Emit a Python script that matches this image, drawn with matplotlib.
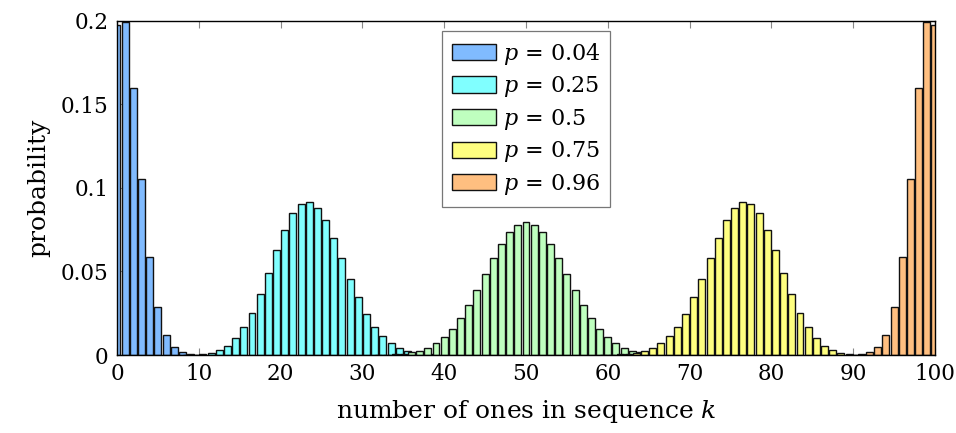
import matplotlib
matplotlib.use("Agg")
import matplotlib.pyplot as plt
import numpy as np

# ---------------- data ----------------
labels = ["$p$ = 0.04", "$p$ = 0.25", "$p$ = 0.5", "$p$ = 0.75", "$p$ = 0.96"]

k_p04 = list(range(0, 14))
v_p04 = [0.01687, 0.07029, 0.14497, 0.19733, 0.19938, 0.15951, 0.10523,
         0.05888, 0.02852, 0.01215, 0.00461, 0.00157, 0.00049, 0.00014]

k_p25 = list(range(10, 43))
v_p25 = [0.00009, 0.00026, 0.00063, 0.00143, 0.00296, 0.00566, 0.01003,
         0.01652, 0.02539, 0.03652, 0.04930, 0.06260, 0.07494, 0.08471,
         0.09059, 0.09180, 0.08827, 0.08064, 0.07008, 0.05800, 0.04575,
         0.03444, 0.02475, 0.01700, 0.01117, 0.00702, 0.00423, 0.00244,
         0.00135, 0.00071, 0.00036, 0.00018, 0.00008]

k_p50 = list(range(32, 69))
v_p50 = [0.00011, 0.00023, 0.00046, 0.00086, 0.00156, 0.00270, 0.00447,
         0.00711, 0.01084, 0.01587, 0.02229, 0.03007, 0.03895, 0.04847,
         0.05796, 0.06659, 0.07353, 0.07803, 0.07959, 0.07803, 0.07353,
         0.06659, 0.05796, 0.04847, 0.03895, 0.03007, 0.02229, 0.01587,
         0.01084, 0.00711, 0.00447, 0.00270, 0.00156, 0.00086, 0.00046,
         0.00023, 0.00011]

k_p75 = list(range(58, 91))
v_p75 = [0.00008, 0.00018, 0.00036, 0.00071, 0.00135, 0.00244, 0.00423,
         0.00702, 0.01117, 0.01700, 0.02475, 0.03444, 0.04575, 0.05800,
         0.07008, 0.08064, 0.08827, 0.09180, 0.09059, 0.08471, 0.07494,
         0.06260, 0.04930, 0.03652, 0.02539, 0.01652, 0.01003, 0.00566,
         0.00296, 0.00143, 0.00063, 0.00026, 0.00009]

k_p96 = list(range(87, 101))
v_p96 = [0.00014, 0.00049, 0.00157, 0.00461, 0.01215, 0.02852, 0.05888,
         0.10523, 0.15951, 0.19938, 0.19733, 0.14497, 0.07029, 0.01687]

x_ticks = [0, 10, 20, 30, 40, 50, 60, 70, 80, 90, 100]
y_ticks = [0, 0.05, 0.1, 0.15, 0.2]
y_ticklabels = ["0", "0.05", "0.1", "0.15", "0.2"]

# ---------------- style ----------------
colors = ["#80bbff", "#80ffff", "#bfffbf", "#ffff80", "#ffbf80"]
shifts = [-3.0, -1.5, 0.0, 1.5, 3.0]   # grouped-bar offsets
bar_w = 0.85

plt.rcParams["font.family"] = ["DejaVu Serif"]
plt.rcParams["mathtext.fontset"] = "dejavuserif"

fig = plt.figure(figsize=(9.56, 4.33), dpi=100)
ax = fig.add_axes([0.1224, 0.180, 0.8556, 0.772])

series = [(k_p04, v_p04), (k_p25, v_p25), (k_p50, v_p50),
          (k_p75, v_p75), (k_p96, v_p96)]
handles = []
for (ks, vs), c, s, lab in zip(series, colors, shifts, labels):
    h = ax.bar(np.array(ks) + s, vs, width=bar_w, color=c,
               edgecolor="#111111", linewidth=1.0, label=lab, zorder=2)
    handles.append(h)

ax.set_xlim(0, 100)
ax.set_ylim(0, 0.2)
ax.set_xticks(x_ticks)
ax.set_xticklabels([str(t) for t in x_ticks])
ax.set_yticks(y_ticks)
ax.set_yticklabels(y_ticklabels)
ax.tick_params(direction="in", length=5, width=0.8, color="#888888",
               top=True, right=True, labelsize=15.5, pad=6)
for sp in ax.spines.values():
    sp.set_linewidth(1.0)
    sp.set_color("black")
    sp.set_zorder(5)

ax.set_xlabel("number of ones in sequence $k$", fontsize=18, labelpad=9)
ax.set_ylabel("probability", fontsize=18, labelpad=8)

leg = ax.legend(handles=handles, labels=labels,
                loc="upper center", bbox_to_anchor=(0.5, 0.97),
                fontsize=16, frameon=True, fancybox=False,
                handlelength=2.0, handleheight=0.75, handletextpad=0.3,
                labelspacing=0.34, borderpad=0.45, borderaxespad=0.0)
leg.get_frame().set_edgecolor("#555555")
leg.get_frame().set_linewidth(0.9)
leg.set_zorder(10)

fig.savefig("out.png", dpi=100)
